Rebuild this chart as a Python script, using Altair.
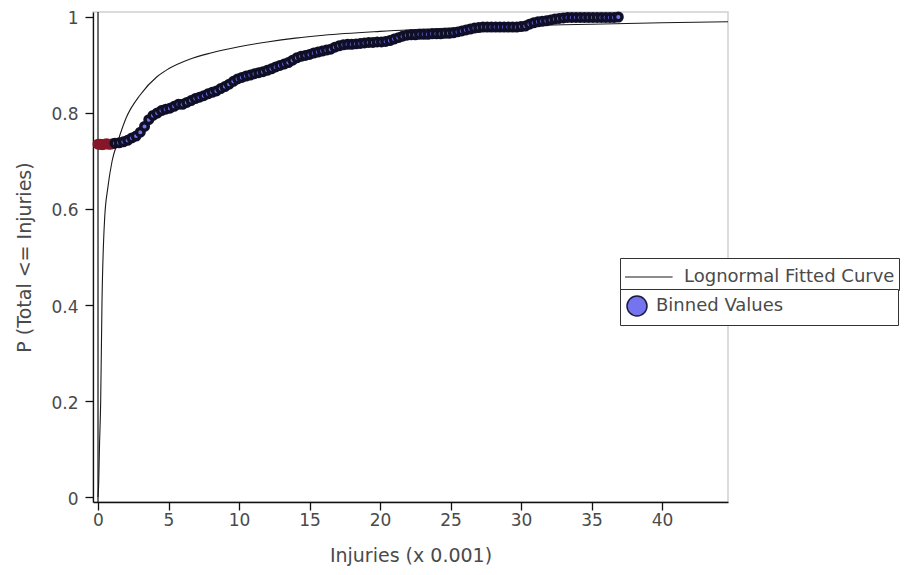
import altair as alt
import pandas as pd

# ---- data ----
curve_x = [0, 0.05, 0.1, 0.19, 0.28, 0.47, 0.7, 1.0, 1.4, 2.0, 3.0, 4.2, 5.0, 6.5,
           8.0, 10.0, 12.0, 14.0, 16.0, 20.0, 25.0, 30.0, 35.0, 40.0, 44.68]
curve_y = [0, 0.03, 0.1, 0.2, 0.4, 0.58, 0.645, 0.7, 0.74, 0.79, 0.838, 0.876, 0.892, 0.912,
           0.925, 0.938, 0.948, 0.956, 0.962, 0.97, 0.977, 0.982, 0.985, 0.988, 0.99]

red_x = [0.0, 0.15, 0.3, 0.45, 0.6, 0.75, 0.9, 1.05]
red_y = [0.735, 0.735, 0.734, 0.735, 0.736, 0.735, 0.735, 0.736]

bin_x = [1.2, 1.5, 1.8, 2.1, 2.4, 2.7, 3.0, 3.3, 3.6, 3.9, 4.2, 4.5, 4.8, 5.1, 5.4, 5.7,
         6.0, 6.3, 6.6, 6.9, 7.2, 7.5, 7.8, 8.1, 8.4, 8.7, 9.0, 9.3, 9.6, 9.9, 10.2, 10.5,
         10.8, 11.1, 11.4, 11.7, 12.0, 12.3, 12.6, 12.9, 13.2, 13.5, 13.8, 14.1, 14.4, 14.7,
         15.0, 15.3, 15.6, 15.9, 16.2, 16.5, 16.8, 17.1, 17.4, 17.7, 18.0, 18.3, 18.6, 18.9,
         19.2, 19.5, 19.8, 20.1, 20.4, 20.7, 21.0, 21.3, 21.6, 21.9, 22.2, 22.5, 22.8, 23.1,
         23.4, 23.7, 24.0, 24.3, 24.6, 24.9, 25.2, 25.5, 25.8, 26.1, 26.4, 26.7, 27.0, 27.3,
         27.6, 27.9, 28.2, 28.5, 28.8, 29.1, 29.4, 29.7, 30.0, 30.3, 30.6, 30.9, 31.2, 31.5,
         31.8, 32.1, 32.4, 32.7, 33.0, 33.3, 33.6, 33.9, 34.2, 34.5, 34.8, 35.1, 35.4, 35.7,
         36.0, 36.3, 36.6, 36.9]
bin_y = [0.737, 0.738, 0.740, 0.743, 0.748, 0.752, 0.760, 0.772, 0.786, 0.795, 0.800, 0.805,
         0.808, 0.810, 0.814, 0.818, 0.818, 0.822, 0.826, 0.830, 0.833, 0.836, 0.840, 0.843,
         0.846, 0.851, 0.855, 0.860, 0.866, 0.871, 0.874, 0.877, 0.879, 0.882, 0.884, 0.886,
         0.889, 0.892, 0.896, 0.899, 0.902, 0.905, 0.910, 0.915, 0.918, 0.920, 0.922, 0.925,
         0.927, 0.929, 0.931, 0.933, 0.937, 0.940, 0.942, 0.943, 0.943, 0.944, 0.945, 0.946,
         0.947, 0.947, 0.948, 0.948, 0.949, 0.951, 0.954, 0.957, 0.960, 0.962, 0.963, 0.963,
         0.964, 0.964, 0.964, 0.965, 0.965, 0.965, 0.966, 0.966, 0.967, 0.969, 0.971, 0.973,
         0.975, 0.977, 0.978, 0.979, 0.979, 0.979, 0.979, 0.979, 0.979, 0.979, 0.979, 0.979,
         0.980, 0.981, 0.985, 0.988, 0.990, 0.991, 0.992, 0.994, 0.996, 0.997, 0.998, 0.999,
         0.999, 0.999, 0.999, 0.999, 0.999, 0.999, 0.999, 0.999, 0.999, 0.999, 0.999, 1.000]

x_ticks = [0, 5, 10, 15, 20, 25, 30, 35, 40]
y_ticks = [0, 0.2, 0.4, 0.6, 0.8, 1.0]

curve_name = "Lognormal Fitted Curve"
bin_name = "Binned Values"

FONT = "DejaVu Sans"
TXT = "#4a4a4a"
# non-breaking spaces plus a zero-width char so both legend boxes share one width
PAD_B = "\u00a0" * 19 + "\u200b"

curve_df = pd.DataFrame({"x": curve_x, "y": curve_y, "name": curve_name})
red_df = pd.DataFrame({"x": red_x, "y": red_y})
bin_df = pd.DataFrame({"x": bin_x, "y": bin_y, "name": bin_name})
zero_df = pd.DataFrame({"x": [0]})

xscale = alt.Scale(domain=[-0.355, 44.68], nice=False, zero=False)
yscale = alt.Scale(domain=[-0.0104, 1.0104], nice=False, zero=False)

xaxis = alt.Axis(values=x_ticks, title="Injuries (x 0.001)", grid=False, tickSize=8,
                 labelPadding=2, titlePadding=18, format="~g")
yaxis = alt.Axis(values=y_ticks, title="P (Total <= Injuries)", grid=False, tickSize=8,
                 labelPadding=7, titlePadding=16, format="~g", labelOffset=2)

X = alt.X("x:Q", scale=xscale, axis=xaxis)
Y = alt.Y("y:Q", scale=yscale, axis=yaxis)

legend_common = dict(orient="none", legendX=527, title=None, labelFont=FONT,
                     labelFontSize=18, labelColor=TXT, strokeColor="#333333",
                     fillColor="white", labelLimit=1200)

line = alt.Chart(curve_df).mark_line(strokeWidth=1.1, interpolate="monotone").encode(
    x=X, y=Y,
    color=alt.Color("name:N", scale=alt.Scale(domain=[curve_name], range=["#1a1a1a"]),
                    legend=alt.Legend(legendY=246, symbolType="M -1 0 L 2.4 0",
                                      symbolSize=784, symbolStrokeWidth=1.2,
                                      symbolStrokeColor="#111111",
                                      padding=4, labelOffset=30, **legend_common)),
)

zero_rule = alt.Chart(zero_df).mark_rule(color="#111111", strokeWidth=1.2).encode(
    x=alt.X("x:Q", scale=xscale)
)

red_pts = alt.Chart(red_df).mark_point(filled=True, size=56, fill="#a81e36",
                                       stroke="#861628", strokeWidth=3.5, opacity=1).encode(
    x=alt.X("x:Q", scale=xscale), y=alt.Y("y:Q", scale=yscale)
)

bin_pts = alt.Chart(bin_df).mark_point(filled=True, size=56, stroke="#0f0f28",
                                       strokeWidth=3.5, opacity=1).encode(
    x=alt.X("x:Q", scale=xscale), y=alt.Y("y:Q", scale=yscale),
    fill=alt.Fill("name:N", scale=alt.Scale(domain=[bin_name], range=["#7474ee"]),
                  legend=alt.Legend(legendY=277, symbolType="circle", symbolSize=400,
                                    symbolStrokeColor="#1a1a3a", symbolStrokeWidth=1.5,
                                    padding=6, labelOffset=8,
                                    labelExpr="datum.label + '" + PAD_B + "'",
                                    **legend_common)),
)

chart = alt.layer(line, zero_rule, red_pts, bin_pts).properties(
    width=635, height=490,
    autosize=alt.AutoSizeParams(type="none"),
    padding={"left": 85, "top": 4, "right": 173, "bottom": 72},
    background="white",
).configure_view(
    stroke="#d0d0d0", strokeWidth=1.5
).configure_axis(
    domainColor="#111111", domainWidth=1.3, tickColor="#111111", tickWidth=1.3,
    labelFont=FONT, labelFontSize=17, labelColor=TXT,
    titleFont=FONT, titleFontSize=19, titleColor=TXT, titleFontWeight="normal",
)

chart.save("out.html", embed_options={"renderer": "svg", "actions": False})
